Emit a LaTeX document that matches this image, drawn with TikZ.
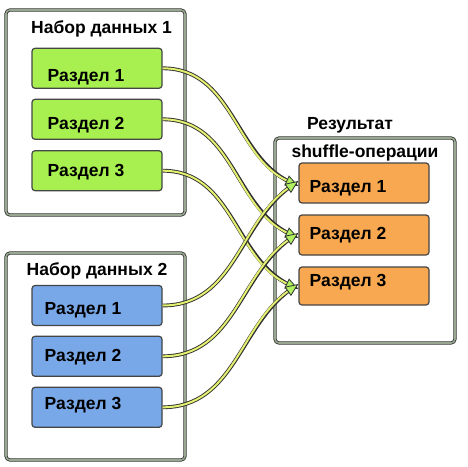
\documentclass[tikz,border=0pt]{standalone}
\usepackage{fontspec}
\setmainfont{Liberation Sans}
\usetikzlibrary{arrows.meta}
\definecolor{darkc}{HTML}{303030}
\definecolor{framemid}{HTML}{98A890}
\definecolor{greenf}{HTML}{A8F050}
\definecolor{bluef}{HTML}{78A8E8}
\definecolor{orangef}{HTML}{F8A850}
\definecolor{linec}{HTML}{E4F070}
\definecolor{tipc}{HTML}{B0F060}
\tikzset{
  frame/.style={draw=darkc, line width=0.8pt, double=framemid, double distance=1.6pt,
    rounded corners=4pt, fill=white, minimum width=179pt, inner sep=0pt},
  part/.style={draw=darkc!90, line width=1.2pt, rounded corners=3pt,
    minimum width=130pt, minimum height=40pt, inner sep=0pt},
  lbl/.style={font=\bfseries\fontsize{17.5pt}{20pt}\selectfont, inner sep=0pt, anchor=base west},
  ttl/.style={font=\bfseries\fontsize{17.5pt}{20pt}\selectfont, inner sep=0pt, anchor=base},
  conn/.style={draw=linec, line width=2pt,
    -{Triangle[length=13pt,width=11pt,fill=tipc,color=darkc,line width=0.8pt]},
    preaction={draw=darkc, line width=3.8pt, -, shorten >=9pt}}
}
\begin{document}
\begin{tikzpicture}[x=1pt,y=-1pt]
\useasboundingbox[fill=white] (0,0) rectangle (468,466);
% frames
\node[frame, minimum height=205pt] (d1) at (95.5,112.5) {};
\node[frame, minimum height=207pt] (d2) at (95.5,356.5) {};
\node[frame, minimum width=180pt, minimum height=205pt] (res) at (365,240.5) {};
% titles
\node[ttl] (t1) at (101.5,33.3) {Набор данных 1};
\node[ttl] (t2) at (97,275) {Набор данных 2};
\node[ttl] (t3) at (350,129) {Результат};
\node[ttl] (t4) at (365,157.3) {shuffle-операции};
% partitions
\node[part, fill=greenf] (g1) at (97,68.3) {};
\node[part, fill=greenf] (g2) at (97,119.3) {};
\node[part, fill=greenf] (g3) at (97,170.7) {};
\node[part, fill=bluef] (b1) at (97,305.5) {};
\node[part, fill=bluef] (b2) at (97,356.3) {};
\node[part, fill=bluef] (b3) at (97,407.3) {};
\node[part, fill=orangef] (o1) at (364,183) {};
\node[part, fill=orangef] (o2) at (364,235) {};
\node[part, fill=orangef, minimum height=38pt] (o3) at (364,286) {};
% labels
\node[lbl] (g1t) at (47.5,81) {Раздел 1};
\node[lbl] (g2t) at (47.5,129.3) {Раздел 2};
\node[lbl] (g3t) at (47.5,176.7) {Раздел 3};
\node[lbl] (b1t) at (44.5,314) {Раздел 1};
\node[lbl] (b2t) at (44.5,361.7) {Раздел 2};
\node[lbl] (b3t) at (44.5,409.3) {Раздел 3};
\node[lbl] (o1t) at (309.5,192) {Раздел 1};
\node[lbl] (o2t) at (309.5,239) {Раздел 2};
\node[lbl] (o3t) at (309.5,286.7) {Раздел 3};
% connectors
\draw[conn] (g1.east) to[out=0,in=155] ([yshift=-3pt]o1.west);
\draw[conn] (g2.east) to[out=0,in=155] ([yshift=-3pt]o2.west);
\draw[conn] (g3.east) to[out=0,in=155] ([yshift=-3pt]o3.west);
\draw[conn] (b1.east) to[out=0,in=215] ([yshift=2pt]o1.west);
\draw[conn] (b2.east) to[out=0,in=215] ([yshift=2pt]o2.west);
\draw[conn] (b3.east) to[out=0,in=215] ([yshift=2pt]o3.west);
\end{tikzpicture}
\end{document}
